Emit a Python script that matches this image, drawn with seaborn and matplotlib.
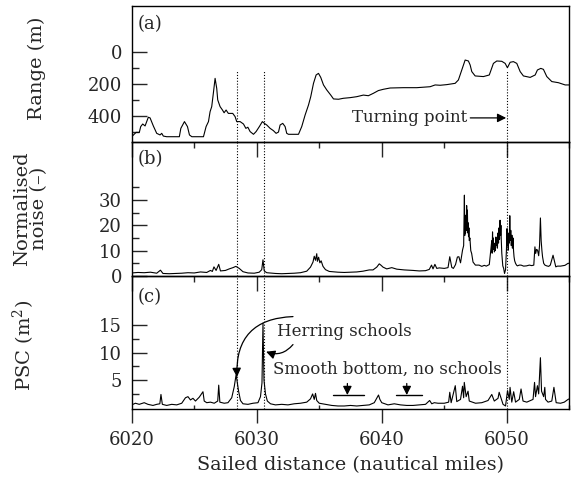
import matplotlib
matplotlib.use("Agg")
import matplotlib.pyplot as plt
import seaborn as sns
import pandas as pd
from matplotlib.ticker import MultipleLocator, FixedLocator

sns.set_style("ticks")
plt.rcParams["font.family"] = ["DejaVu Serif"]
plt.rcParams["mathtext.fontset"] = "dejavuserif"

# ---------------- data ----------------
# (a) range to bottom (m)
dist_a = [6020.0, 6020.35, 6020.61, 6020.72, 6020.88, 6021.07, 6021.33, 6021.47, 6021.73, 6022.0,
          6022.27, 6022.4, 6022.53, 6022.8, 6023.81, 6023.93, 6024.22, 6024.46, 6024.62, 6024.81,
          6025.74, 6025.95, 6026.14, 6026.27, 6026.4, 6026.53, 6026.67, 6026.8, 6026.88, 6027.07,
          6027.26, 6027.39, 6027.55, 6027.73, 6028.08, 6028.27, 6028.4, 6028.67, 6028.94, 6029.13,
          6029.29, 6029.47, 6029.74, 6029.95, 6030.21, 6030.45, 6030.61, 6030.8, 6031.07, 6031.33,
          6031.55, 6031.74, 6031.87, 6032.08, 6032.27, 6032.4, 6032.54, 6033.34, 6033.6, 6033.87,
          6034.14, 6034.32, 6034.54, 6034.75, 6034.94, 6035.12, 6035.34, 6035.6, 6035.92, 6036.14,
          6036.54, 6036.93, 6037.47, 6038.0, 6038.53, 6038.93, 6039.33, 6039.73, 6040.13, 6040.67,
          6041.73, 6042.8, 6043.87, 6044.27, 6044.67, 6045.2, 6045.87, 6046.13, 6046.4, 6046.67,
          6046.93, 6047.07, 6047.2, 6047.47, 6048.13, 6048.6, 6048.93, 6049.2, 6049.6, 6049.87,
          6050.05, 6050.27, 6050.53, 6050.8, 6051.07, 6051.33, 6051.87, 6052.27, 6052.45, 6052.72,
          6052.93, 6053.2, 6053.6, 6054.13, 6054.67, 6055.0]
range_m = [529, 502, 502, 466, 450, 462, 408, 412, 462, 508,
           518, 508, 525, 529, 529, 477, 435, 466, 518, 529,
           529, 466, 435, 373, 342, 259, 166, 228, 300, 342,
           363, 380, 363, 384, 384, 404, 435, 435, 450, 477,
           470, 497, 514, 497, 466, 435, 446, 456, 477, 491,
           508, 500, 456, 446, 466, 508, 514, 514, 466, 394,
           332, 280, 197, 145, 135, 160, 207, 238, 270, 294,
           296, 290, 286, 280, 270, 274, 259, 242, 234, 226,
           224, 224, 218, 207, 209, 205, 197, 176, 114, 52,
           58, 83, 124, 151, 155, 145, 73, 58, 60, 73,
           100, 66, 62, 73, 124, 151, 160, 145, 114, 104,
           110, 155, 186, 193, 207, 207]

# (b) normalised noise (-)
dist_b = [6020.0, 6020.5, 6021.0, 6021.5, 6022.0, 6022.3, 6022.5, 6023.0, 6023.5, 6024.0,
          6024.5, 6025.0, 6025.5, 6026.0, 6026.3, 6026.45, 6026.58, 6026.75, 6026.96, 6027.1,
          6027.5, 6027.8, 6028.1, 6028.33, 6028.6, 6028.9, 6029.3, 6029.8, 6030.2, 6030.4,
          6030.5, 6030.6, 6030.8, 6031.5, 6032.0, 6032.5, 6033.0, 6033.5, 6034.0, 6034.3,
          6034.5, 6034.6, 6034.7, 6034.8, 6034.85, 6034.95, 6035.05, 6035.15, 6035.3, 6035.5,
          6035.8, 6036.5, 6037.0, 6037.5, 6038.0, 6038.5, 6039.0, 6039.3, 6039.6, 6039.8,
          6039.95, 6040.1, 6040.4, 6040.8, 6041.2, 6041.8, 6042.5, 6043.0, 6043.5, 6043.8,
          6043.98, 6044.1, 6044.25, 6044.4, 6044.6, 6045.0, 6045.3, 6045.44, 6045.6, 6045.73,
          6045.9, 6046.05, 6046.17, 6046.3, 6046.46, 6046.55, 6046.61, 6046.64, 6046.67, 6046.7,
          6046.73, 6046.76, 6046.79, 6046.82, 6046.85, 6046.88, 6046.91, 6046.94, 6046.97, 6047.0,
          6047.05, 6047.12, 6047.19, 6047.3, 6047.49, 6047.78, 6048.0, 6048.2, 6048.36, 6048.6,
          6048.72, 6048.8, 6048.83, 6048.86, 6048.89, 6048.92, 6048.95, 6048.98, 6049.01, 6049.05,
          6049.09, 6049.13, 6049.17, 6049.21, 6049.25, 6049.3, 6049.34, 6049.38, 6049.42, 6049.46,
          6049.5, 6049.53, 6049.56, 6049.6, 6049.64, 6049.68, 6049.75, 6049.82, 6049.9, 6049.97,
          6050.02, 6050.06, 6050.09, 6050.12, 6050.16, 6050.2, 6050.24, 6050.28, 6050.32, 6050.36,
          6050.41, 6050.45, 6050.5, 6050.54, 6050.58, 6050.63, 6050.7, 6050.78, 6050.85, 6051.0,
          6051.14, 6051.35, 6051.58, 6051.8, 6052.0, 6052.16, 6052.25, 6052.31, 6052.38, 6052.46,
          6052.55, 6052.62, 6052.69, 6052.75, 6052.81, 6052.86, 6052.95, 6053.05, 6053.19, 6053.35,
          6053.48, 6053.7, 6053.85, 6053.92, 6054.0, 6054.06, 6054.3, 6054.65, 6054.9, 6055.0]
noise = [1.2, 1.4, 1.3, 1.5, 1.1, 2.3, 1.0, 0.9, 1.0, 1.1,
         1.3, 1.2, 1.6, 1.4, 2.2, 1.8, 3.6, 2.2, 4.6, 2.0,
         2.2, 2.8, 3.3, 3.8, 3.0, 1.7, 1.2, 1.1, 1.5, 2.5,
         6.4, 2.0, 1.3, 1.0, 0.9, 1.0, 1.1, 1.3, 1.9, 3.5,
         5.5, 7.8, 6.2, 8.8, 5.8, 7.4, 5.2, 6.0, 3.8, 2.5,
         1.8, 1.5, 1.4, 1.5, 1.6, 1.9, 2.4, 2.4, 3.5, 4.8,
         4.2, 3.5, 2.8, 3.3, 2.7, 2.4, 2.2, 2.0, 2.1, 2.6,
         4.3, 2.8, 4.6, 3.0, 3.2, 3.0, 3.3, 7.6, 3.4, 3.0,
         4.5, 7.5, 7.6, 5.2, 10.2, 12.0, 31.9, 16.0, 24.0, 17.0,
         22.0, 18.0, 27.8, 19.0, 26.0, 17.0, 21.0, 15.5, 19.0, 14.0,
         15.0, 10.0, 8.9, 5.5, 4.3, 4.3, 3.8, 4.2, 3.9, 4.5,
         10.0, 14.0, 9.0, 17.4, 11.0, 15.0, 10.5, 13.0, 9.5, 12.8,
         10.0, 15.4, 12.0, 14.0, 11.0, 17.0, 13.0, 19.0, 14.5, 22.0,
         16.0, 20.0, 14.1, 9.0, 6.3, 4.0, 3.0, 1.0, 2.5, 10.0,
         18.7, 12.0, 17.0, 10.2, 15.0, 13.0, 23.8, 14.1, 18.0, 12.0,
         16.1, 11.0, 15.0, 10.0, 7.6, 6.0, 5.0, 4.3, 4.0, 4.3,
         4.3, 3.9, 4.0, 4.3, 4.1, 4.3, 11.5, 8.9, 10.5, 10.2,
         8.0, 12.0, 22.9, 13.9, 10.0, 7.6, 5.0, 4.3, 4.0, 3.8,
         4.3, 8.2, 5.0, 3.6, 3.8, 3.9, 3.9, 4.2, 5.0, 5.0]

# (c) PSC (m^2)
dist_c = [6020.0, 6020.3, 6020.6, 6021.0, 6021.3, 6021.7, 6022.0, 6022.25, 6022.34, 6022.45,
          6022.8, 6023.2, 6023.6, 6024.0, 6024.3, 6024.5, 6024.7, 6024.9, 6025.1, 6025.4,
          6025.7, 6025.8, 6026.0, 6026.3, 6026.6, 6026.88, 6026.96, 6027.05, 6027.4, 6027.7,
          6028.0, 6028.2, 6028.35, 6028.45, 6028.55, 6028.7, 6028.9, 6029.3, 6029.7, 6030.1,
          6030.3, 6030.42, 6030.5, 6030.58, 6030.7, 6030.85, 6031.1, 6031.5, 6032.0, 6032.5,
          6033.0, 6033.5, 6034.0, 6034.3, 6034.47, 6034.6, 6034.7, 6034.8, 6035.0, 6035.5,
          6036.0, 6036.5, 6037.0, 6037.5, 6038.0, 6038.5, 6039.0, 6039.4, 6039.74, 6039.85,
          6040.0, 6040.5, 6041.0, 6041.5, 6042.0, 6042.5, 6043.0, 6043.5, 6043.83, 6044.0,
          6044.2, 6044.5, 6045.0, 6045.35, 6045.44, 6045.55, 6045.88, 6046.0, 6046.3, 6046.46,
          6046.55, 6046.6, 6046.75, 6046.9, 6047.0, 6047.5, 6048.0, 6048.5, 6048.8, 6049.0,
          6049.3, 6049.39, 6049.7, 6049.9, 6050.06, 6050.2, 6050.26, 6050.4, 6050.55, 6050.7,
          6051.0, 6051.14, 6051.3, 6051.6, 6051.9, 6052.1, 6052.22, 6052.3, 6052.45, 6052.55,
          6052.69, 6052.78, 6052.95, 6053.04, 6053.1, 6053.3, 6053.6, 6053.77, 6053.95, 6054.3,
          6054.6, 6054.9, 6055.0]
psc = [0.5, 0.8, 0.6, 0.9, 0.6, 0.4, 0.6, 0.7, 2.4, 0.6,
       0.4, 0.6, 0.5, 0.8, 1.8, 2.0, 1.4, 1.7, 1.2, 1.9,
       2.9, 1.2, 0.9, 1.0, 0.8, 1.2, 4.1, 1.0, 0.8, 0.9,
       1.8, 3.8, 6.0, 4.5, 3.0, 1.3, 0.7, 0.6, 0.8, 0.9,
       2.0, 4.5, 15.4, 5.0, 2.5, 1.2, 0.7, 0.5, 0.6, 0.5,
       0.7, 0.8, 1.0, 1.6, 2.5, 1.5, 2.6, 1.3, 0.8, 0.6,
       0.4, 0.3, 0.3, 0.4, 0.3, 0.4, 0.5, 0.9, 2.3, 1.5,
       0.9, 0.5, 0.7, 0.5, 0.4, 0.4, 0.5, 0.6, 1.3, 0.7,
       0.9, 0.8, 0.8, 1.0, 2.8, 0.9, 4.0, 1.1, 1.5, 3.9,
       1.8, 4.6, 2.0, 3.0, 1.2, 0.8, 0.9, 1.3, 2.4, 1.2,
       1.7, 2.8, 0.6, 0.3, 3.1, 1.5, 3.7, 1.0, 2.9, 1.0,
       1.5, 3.4, 1.2, 1.0, 1.3, 1.5, 4.6, 2.0, 4.0, 2.5,
       9.1, 3.0, 2.0, 3.7, 1.5, 1.0, 1.2, 3.7, 0.9, 0.8,
       1.0, 1.5, 1.6]

school_marks = [6028.42, 6030.62]
turning_point = 6050.0

df_a = pd.DataFrame({"dist": dist_a, "val": range_m})
df_b = pd.DataFrame({"dist": dist_b, "val": noise})
df_c = pd.DataFrame({"dist": dist_c, "val": psc})

# ---------------- figure ----------------
W, H = 573, 482
fig = plt.figure(figsize=(W / 100, H / 100), dpi=100)
fig.patch.set_facecolor("white")
left = 131.7 / W
width = (569.3 - 131.7) / W

def box(top, bottom):
    return [left, 1 - bottom / H, width, (bottom - top) / H]

ax_a = fig.add_axes(box(6, 141.7))
ax_b = fig.add_axes(box(141.7, 276))
ax_c = fig.add_axes(box(276, 409))

for ax, df in ((ax_a, df_a), (ax_b, df_b), (ax_c, df_c)):
    ax.patch.set_visible(False)
    sns.lineplot(data=df, x="dist", y="val", ax=ax, color="black", lw=0.8,
                 estimator=None, sort=False)
    ax.set_xlim(6020, 6055)
    ax.xaxis.set_major_locator(MultipleLocator(10))
    ax.xaxis.set_minor_locator(MultipleLocator(5))
    for s in ax.spines.values():
        s.set_visible(True)
        s.set_linewidth(1.0)
        s.set_color("black")
    ax.tick_params(axis="y", which="major", direction="in", length=10.5, width=1.0,
                   labelsize=13, pad=7)
    ax.tick_params(axis="y", which="minor", direction="in", length=5, width=1.0)
    ax.set_xlabel("")
    ax.set_ylabel("")

for ax in (ax_a, ax_b):
    ax.tick_params(axis="x", which="major", direction="out", length=10.5, width=1.0,
                   labelbottom=False)
    ax.tick_params(axis="x", which="minor", direction="out", length=4.5, width=1.0)
ax_c.tick_params(axis="x", which="major", direction="out", length=10, width=1.0,
                 labelsize=13, pad=6)
ax_c.tick_params(axis="x", which="minor", direction="in", length=3, width=1.0)

# panel a
ax_a.set_ylim(560, -284)
ax_a.yaxis.set_major_locator(FixedLocator([0, 200, 400]))
ax_a.yaxis.set_minor_locator(FixedLocator([100, 300, 500]))
# panel b
ax_b.set_ylim(0, 53)
ax_b.yaxis.set_major_locator(FixedLocator([0, 10, 20, 30]))
ax_b.yaxis.set_minor_locator(FixedLocator([5, 15, 25, 35]))
# panel c
ax_c.set_ylim(-0.25, 24)
ax_c.yaxis.set_major_locator(FixedLocator([5, 10, 15]))
ax_c.yaxis.set_minor_locator(FixedLocator([2.5, 7.5, 12.5]))

# labels
lab_fs = 14
ax_a.set_ylabel("Range (m)", fontsize=lab_fs)
ax_a.yaxis.set_label_coords(-0.196, 0.54)
ax_b.set_ylabel("Normalised\nnoise (–)", fontsize=lab_fs, linespacing=1.0)
ax_b.yaxis.set_label_coords(-0.19, 0.5)
ax_c.set_ylabel("PSC (m$^2$)", fontsize=lab_fs)
ax_c.yaxis.set_label_coords(-0.216, 0.48)
ax_c.set_xlabel("Sailed distance (nautical miles)", fontsize=13.8, labelpad=5)

for ax, t, yy in ((ax_a, "(a)", 0.93), (ax_b, "(b)", 0.94), (ax_c, "(c)", 0.91)):
    ax.text(0.014, yy, t, transform=ax.transAxes, ha="left", va="top", fontsize=13)

# dotted vertical markers
dot = dict(color="black", lw=0.8, linestyle=(0, (1, 1.6)))
for xm in school_marks:
    ax_a.axvline(xm, ymin=0, ymax=0.53, **dot)
    ax_b.axvline(xm, **dot)
    ax_c.axvline(xm, **dot)
ax_a.axvline(turning_point, ymin=0, ymax=0.53, **dot)
ax_b.axvline(turning_point, **dot)
ax_c.axvline(turning_point, **dot)

arrow = dict(arrowstyle="-|>", color="black", lw=0.9, mutation_scale=13,
             shrinkA=0, shrinkB=0)
ax_a.annotate("Turning point", xy=(turning_point - 0.05, 412), xytext=(6037.6, 412),
              ha="left", va="center", fontsize=12, arrowprops=arrow)

ax_c.text(6031.6, 13.8, "Herring schools", ha="left", va="center", fontsize=12)
ax_c.text(6031.3, 6.9, "Smooth bottom, no schools", ha="left", va="center", fontsize=12)
ax_c.annotate("", xy=(6028.42, 5.6), xytext=(6032.9, 16.6),
              arrowprops=dict(arrow, connectionstyle="arc3,rad=0.5"))
ax_c.annotate("", xy=(6030.75, 10.2), xytext=(6032.9, 11.5),
              arrowprops=dict(arrow, connectionstyle="arc3,rad=-0.35"))

for x0, x1, xa in ((6036.1, 6038.6, 6037.25), (6041.15, 6043.2, 6042.0)):
    ax_c.plot([x0, x1], [2.3, 2.3], color="black", lw=1.0)
    ax_c.annotate("", xy=(xa, 2.3), xytext=(xa, 4.4), arrowprops=arrow)

fig.savefig("out.png", dpi=100, facecolor="white")
